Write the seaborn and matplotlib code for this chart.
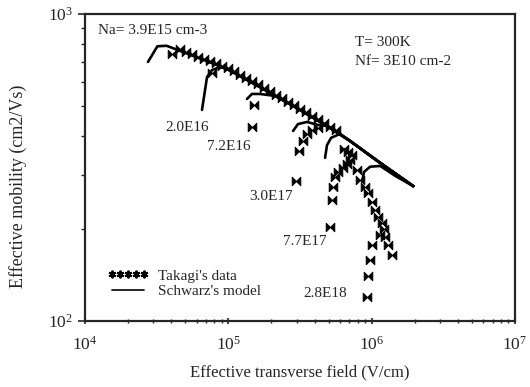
import matplotlib
matplotlib.use('Agg')
import matplotlib.pyplot as plt
from matplotlib import ticker as mtick
from matplotlib.lines import Line2D
import numpy as np
import pandas as pd
import seaborn as sns

# Schwarz's model: common high-field line (V/cm, cm2/Vs)
univ_field = [3.9e4, 5.7e4, 9.8e4, 1.66e5, 2.83e5, 4.88e5, 7.06e5, 1.15e6, 1.95e6]
univ_mob = [781, 730, 662, 578, 502, 432, 386, 327, 275]

# low-field hooks of the model, one per doping
doping = ['3.9E15', '2.0E16', '7.2E16', '3.0E17', '7.7E17', '2.8E18']
hook_field = [[2.75e4, 3.2e4, 3.7e4],
              [6.55e4, 7.1e4, 7.7e4, 8.75e4],
              [1.35e5, 1.46e5, 1.66e5, 2.12e5],
              [2.83e5, 3.06e5, 3.54e5, 4.23e5],
              [4.73e5, 4.88e5, 5.21e5, 6.02e5],
              [8.57e5, 8.85e5, 9.75e5, 1.146e6, 1.46e6]]
hook_mob = [[698, 785, 788],
            [487, 623, 657, 672],
            [529, 549, 549, 541],
            [416, 438, 445, 435],
            [340, 374, 395, 407],
            [284, 306, 318, 320, 297]]

# Takagi's data
tak_field_39e15 = [4.05e4, 4.60e4, 5.07e4, 5.58e4, 6.15e4, 6.77e4, 7.45e4, 8.21e4,
                   9.04e4, 9.95e4, 1.096e5, 1.207e5, 1.329e5, 1.464e5, 1.612e5,
                   1.775e5, 1.954e5, 2.152e5, 2.370e5, 2.610e5, 2.873e5, 3.164e5,
                   3.484e5, 3.837e5, 4.227e5, 4.655e5, 5.125e5, 5.645e5]
tak_mob_39e15 = [741, 767, 752, 740, 727, 715, 703, 691, 679, 667, 651, 635, 619,
                 604, 590, 575, 560, 546, 532, 518, 505, 492, 479, 466, 454, 442,
                 430, 418]
tak_field_2e16 = [7.7e4]
tak_mob_2e16 = [642]
tak_field_72e16 = [1.464e5, 1.511e5]
tak_mob_72e16 = [428, 505]
tak_field_3e17 = [2.969e5, 3.114e5, 3.32e5, 3.54e5, 3.84e5, 4.23e5]
tak_mob_3e17 = [286, 358, 386, 406, 419, 425]
tak_field_77e17 = [5.125e5, 5.29e5, 5.38e5, 5.55e5, 5.83e5, 6.32e5, 6.74e5, 7.07e5,
                   7.30e5, 6.84e5, 6.42e5, 7.91e5, 8.30e5, 8.99e5, 9.44e5, 1.007e6,
                   1.057e6, 1.109e6, 1.182e6, 1.221e6, 1.302e6, 1.388e6]
tak_mob_77e17 = [202, 248, 273, 294, 306, 315, 325, 335, 347, 355, 363, 310, 288,
                 273, 261, 244, 230, 218, 209, 199, 177, 164]
tak_field_28e18 = [9.29e5, 9.44e5, 9.75e5, 1.007e6, 1.145e6, 1.24e6]
tak_mob_28e18 = [120, 140, 158, 177, 191, 188]

# curve labels (left edge, centre)
lab_text = ['2.0E16', '7.2E16', '3.0E17', '7.7E17', '2.8E18']
lab_field = [3.62e4, 7.1e4, 1.395e5, 2.41e5, 3.32e5]
lab_mob = [428, 369, 254, 181, 123]


sns.set_style('ticks')
plt.rcParams['font.family'] = ['Liberation Serif', 'DejaVu Serif']
plt.rcParams['mathtext.fontset'] = 'custom'
plt.rcParams['mathtext.rm'] = 'Liberation Serif'

# model curves: hook, then follow the common line
rows = []
for name, hf, hm in zip(doping, hook_field, hook_mob):
    f = list(hf) + [x for x in univ_field if x > hf[-1]]
    m = list(hm) + [y for x, y in zip(univ_field, univ_mob) if x > hf[-1]]
    rows.append(pd.DataFrame({'field': f, 'mob': m, 'Na': name}))
model = pd.concat(rows, ignore_index=True)

data = pd.DataFrame({
    'field': tak_field_39e15 + tak_field_2e16 + tak_field_72e16 + tak_field_3e17
             + tak_field_77e17 + tak_field_28e18,
    'mob': tak_mob_39e15 + tak_mob_2e16 + tak_mob_72e16 + tak_mob_3e17
           + tak_mob_77e17 + tak_mob_28e18})

bowtie = [(-1, -1), (-1, 1), (1, -1), (1, 1), (-1, -1)]

fig = plt.figure(figsize=(5.30, 3.87), dpi=100)
ax = fig.add_axes([85/530, 66/387, 430/530, 307/387])

sns.lineplot(data=model, x='field', y='mob', units='Na', estimator=None,
             sort=False, color='k', lw=1.9, ax=ax, legend=False)
sns.scatterplot(data=data, x='field', y='mob', marker=bowtie, s=38,
                color='k', edgecolor='k', linewidth=0.7, ax=ax, zorder=3)

ax.set_xscale('log')
ax.set_yscale('log')
ax.set_xlim(1e4, 1e7)
ax.set_ylim(1e2, 1e3)
ax.xaxis.set_major_formatter(mtick.LogFormatterMathtext())
ax.yaxis.set_major_formatter(mtick.LogFormatterMathtext())
ax.yaxis.set_minor_formatter(mtick.NullFormatter())
ax.xaxis.set_minor_formatter(mtick.NullFormatter())
ax.tick_params(axis='both', which='major', labelsize=12.5, width=1.2, length=5)
ax.tick_params(axis='both', which='minor', width=1.0, length=3)
ax.tick_params(axis='x', which='both', direction='inout', pad=8)
for sp in ax.spines.values():
    sp.set_linewidth(1.6)

ax.set_xlabel('Effective transverse field (V/cm)', fontsize=12, labelpad=8)
ax.set_ylabel('Effective mobility (cm2/Vs)', fontsize=13)
ax.yaxis.set_label_coords(-0.135, 0.44)

for t, x, y in zip(lab_text, lab_field, lab_mob):
    ax.text(x, y, t, fontsize=11, ha='left', va='center')

ax.text(0.030, 0.945, 'Na= 3.9E15 cm-3', transform=ax.transAxes,
        fontsize=11, ha='left', va='center')
ax.text(0.628, 0.906, 'T= 300K', transform=ax.transAxes,
        fontsize=11, ha='left', va='center')
ax.text(0.628, 0.844, 'Nf= 3E10 cm-2', transform=ax.transAxes,
        fontsize=11, ha='left', va='center')

handles = [Line2D([], [], ls='none', marker=(6, 2, 0), ms=5.5, mew=1.4, color='k'),
           Line2D([], [], color='k', lw=1.2)]
ax.legend(handles, ["Takagi's data", "Schwarz's model"], loc='lower left',
          bbox_to_anchor=(0.053, 0.075), frameon=False, fontsize=11,
          numpoints=5, handlelength=2.7, handletextpad=0.6, labelspacing=0.1,
          borderpad=0, borderaxespad=0)

fig.savefig('out.png', dpi=100)
